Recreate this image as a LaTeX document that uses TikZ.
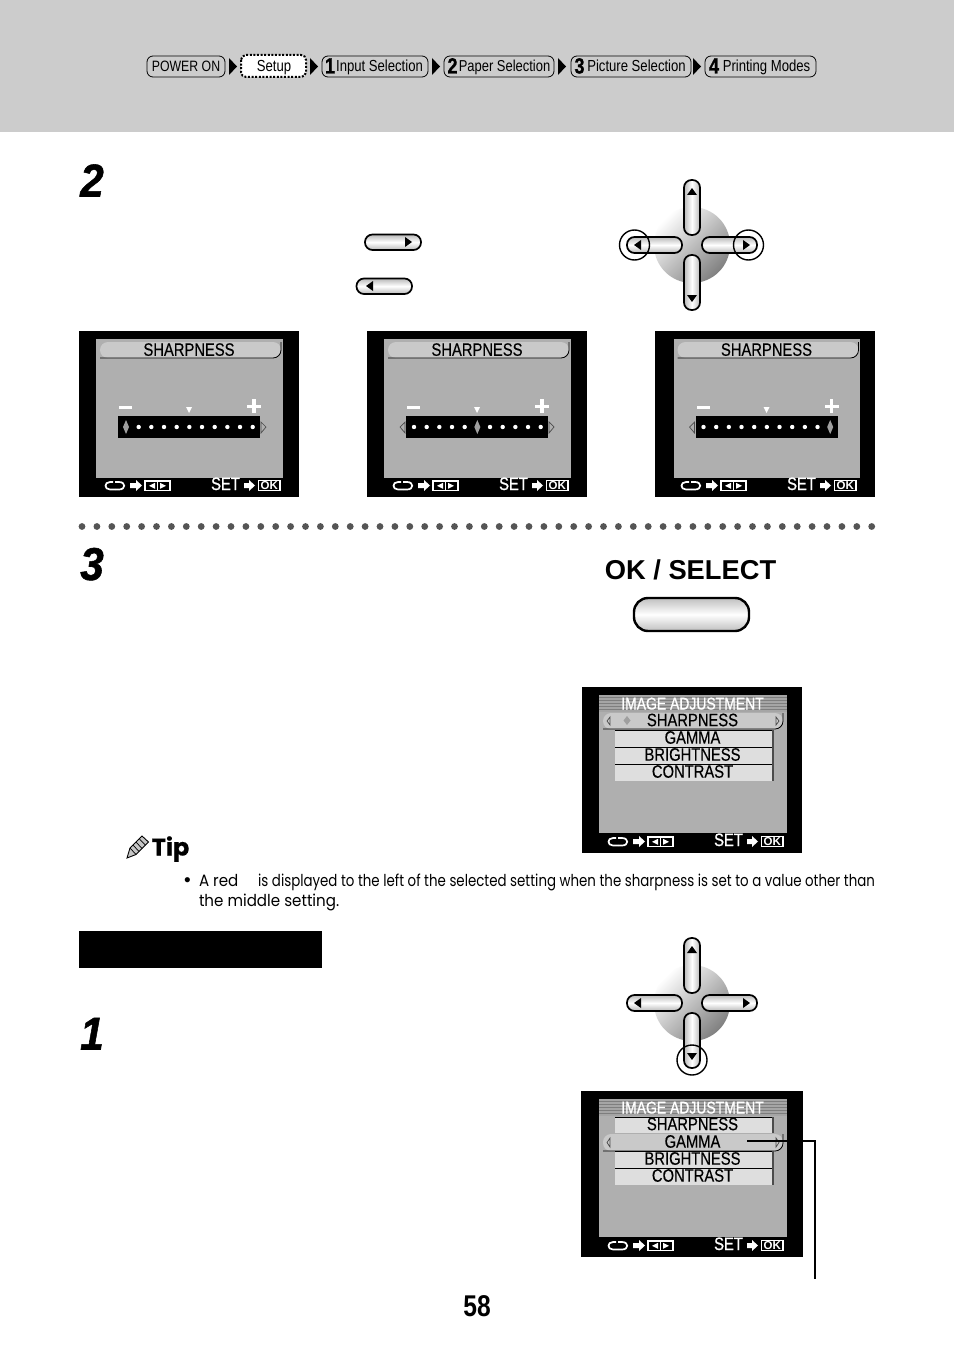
\documentclass[tikz,border=0pt]{standalone}
\usepackage{fontspec}
\setmainfont{Liberation Sans}
\newfontfamily\narrowf[FakeStretch=0.82]{Liberation Sans}
\newfontfamily\scrf[FakeStretch=0.82,FakeBold=0.35]{Liberation Sans}
\newfontfamily\ttlf[FakeStretch=0.82,FakeBold=0.9]{Liberation Sans}
\newfontfamily\numf[FakeStretch=0.82,FakeBold=1]{Liberation Sans}
\newfontfamily\stepf[FakeStretch=0.92,FakeBold=1.2]{Liberation Sans}
\newfontfamily\bodyf[FakeStretch=0.815]{Poppins}
\newfontfamily\redf[FakeStretch=0.92]{Poppins}
\newfontfamily\tipf[FakeBold=0.6]{Poppins}
\definecolor{hdr}{HTML}{CCCCCC}
\definecolor{scr}{HTML}{AFAFAF}
\definecolor{rowc}{HTML}{DEDEDE}
\definecolor{selc}{HTML}{C9C9C9}
\definecolor{stripe}{HTML}{7E7E7E}
\definecolor{dotc}{HTML}{555555}
\tikzset{
  lbl/.style={inner sep=0pt,outer sep=0pt,anchor=base},
  crumb/.style={draw=black,line width=.8pt,rounded corners=6pt},
  keyline/.style={draw=black,line width=1.7pt},
  ring/.style={draw=black,line width=1.4pt},
}
\newcommand{\hpill}[4]{\path[keyline,rounded corners=7.5pt,top color=gray!55,bottom color=gray!55,middle color=white] (#1,#2) rectangle (#3,#4);}
\newcommand{\vpill}[4]{\path[keyline,rounded corners=7.5pt,left color=gray!55,right color=gray!55,middle color=white] (#1,#2) rectangle (#3,#4);}
\newcommand{\tright}[3]{\fill (#1,#2-#3) -- (#1+#3*1.4,#2) -- (#1,#2+#3) -- cycle;}
\newcommand{\tleft}[3]{\fill (#1,#2-#3) -- (#1-#3*1.4,#2) -- (#1,#2+#3) -- cycle;}
\newcommand{\tup}[3]{\fill (#1-#3,#2) -- (#1,#2-#3*1.4) -- (#1+#3,#2) -- cycle;}
\newcommand{\tdown}[3]{\fill (#1-#3,#2) -- (#1,#2+#3*1.4) -- (#1+#3,#2) -- cycle;}
\newcommand{\dpad}[2]{%
  \begin{scope}[shift={(#1,#2)}]
    \shade[top color=white,bottom color=black!50,shading angle=45] (0,0) circle (38);
    \vpill{-8}{-65}{8}{-10}\vpill{-8}{10}{8}{65}
    \hpill{-65}{-8}{-10}{8}\hpill{10}{-8}{65}{8}
    \tup{0}{-50}{5}\tdown{0}{50}{5}\tleft{-51}{0}{5}\tright{51}{0}{5}
  \end{scope}}
\newcommand{\botbar}[1]{%
  \draw[white,line width=1.7pt] (34,151) -- (31,151) .. controls (25,151) and (25,158.5) .. (31,158.5) -- (36,158.5);
  \draw[white,line width=1.7pt] (36,151) -- (40,151) .. controls (47,151) and (47,158.5) .. (40,158.5) -- (36,158.5);
  \fill[white] (51,152) -- (57,152) -- (57,149) -- (63,154.5) -- (57,160) -- (57,157) -- (51,157) -- cycle;
  \draw[white,line width=1.2pt] (66,150) rectangle (91,159.5) (78.5,150) -- (78.5,159.5);
  \fill[white] (76,151.8) -- (70,154.8) -- (76,157.8) -- cycle;
  \fill[white] (81,151.8) -- (87,154.8) -- (81,157.8) -- cycle;
  \node[lbl,white] (#1set) at (146.5,159) {\ttlf\fontsize{18}{20}\selectfont SET};
  \fill[white] (165,152) -- (170,152) -- (170,149) -- (176,154.5) -- (170,160) -- (170,157) -- (165,157) -- cycle;
  \draw[white,line width=1.2pt] (179.5,149.5) rectangle (201,159.5);
  \node[lbl,white] (#1ok) at (190.2,158.6) {\fontsize{11.5}{14}\selectfont\bfseries OK};
}
\newcommand{\sharpscreen}[5]{%
  \begin{scope}[shift={(#2,#3)}]
    \fill[black] (0,0) rectangle (220,166);
    \begin{scope}[shift={(#5,0)}]
    \fill[scr] (17,8) rectangle (203.5,147);
    \path[fill=selc,rounded corners=8pt] (21,11) rectangle (202,27);
    \draw[black,line width=.8pt,rounded corners=8pt] (21,27) -- (202,27) -- (202,11);
    \node[lbl,black] (#1title) at (110,24.8) {\scrf\fontsize{18}{20}\selectfont SHARPNESS};
    \fill[white] (40,74.5) rectangle (53,78);
    \fill[white] (168,73.5) rectangle (182,77);
    \fill[white] (173.2,68) rectangle (176.8,82);
    \fill[white] (107,76) -- (113,76) -- (110,82) -- cycle;
    \fill[black] (39,85) rectangle (181,107);
    \foreach \i in {0,...,10}{
      \ifnum\i=#4\relax
        \fill[gray!75] ({47+12.67*\i},89) -- ({50+12.67*\i},96) -- ({47+12.67*\i},103) -- ({44+12.67*\i},96) -- cycle;
      \else
        \fill[white] ({47+12.67*\i},96) circle (2.2);
      \fi}
    \ifnum#4<10\relax \draw[black!70,line width=.7pt] (182,91) -- (187,96) -- (182,102) -- cycle;\fi
    \ifnum#4>0\relax \draw[black!70,line width=.7pt] (38,91) -- (33,96) -- (38,102) -- cycle;\fi
    \end{scope}
    \botbar{#1}
  \end{scope}}
\newcommand{\menurow}[5]{%
  \ifnum#5=1\relax
    \path[fill=selc,rounded corners=8pt] (21,#2) rectangle (201,#3);
    \draw[black,line width=.8pt,rounded corners=8pt] (21,#3) -- (201,#3) -- (201,#2);
    \draw[black!70,line width=.7pt] (28,{#2+4}) -- (25,{(#2+#3)/2}) -- (28,{#3-4}) -- cycle;
    \draw[black!70,line width=.7pt] (194,{#2+4}) -- (197,{(#2+#3)/2}) -- (194,{#3-4}) -- cycle;
  \else
    \fill[rowc] (33,#2) rectangle (190,#3);
    \draw[black,line width=.7pt] (33,#2) -- (190,#2);
    \fill[black!70] (190,#2) rectangle (192,#3);
  \fi
  \node[lbl,black] (#1) at (110.5,{(#2+#3)/2+5.2}) {\scrf\fontsize{18}{20}\selectfont #4};
}
\newcommand{\menuscreen}[5]{%
  \begin{scope}[shift={(#2,#3)}]
    \fill[black] (-#5,0) rectangle (220+#5,166);
    \fill[scr] (17,8) rectangle (205,146);
    \fill[stripe!70] (17,8) rectangle (205,25);
    \foreach \yy in {10,13,...,24}{\draw[stripe,line width=.8pt] (17,\yy) -- (205,\yy);}
    \node[lbl,white] (#1title) at (110.5,22.5) {\ttlf\fontsize{17}{20}\selectfont IMAGE ADJUSTMENT};
    \menurow{#1a}{26}{42}{SHARPNESS}{\ifnum#4=0 1\else 0\fi}
    \menurow{#1b}{43}{60}{GAMMA}{\ifnum#4=1 1\else 0\fi}
    \menurow{#1c}{60}{77}{BRIGHTNESS}{0}
    \menurow{#1d}{77}{94}{CONTRAST}{0}
    \ifnum#4=0\relax \fill[gray!75] (45,29) -- (48.5,33.5) -- (45,38) -- (41.5,33.5) -- cycle;\fi
    \botbar{#1}
  \end{scope}}
\begin{document}
\begin{tikzpicture}[x=1pt,y=-1pt]
\useasboundingbox (0,0) rectangle (954,1348);
\fill[white] (0,0) rectangle (954,1348);
\fill[hdr] (0,0) rectangle (954,132);
\path[crumb] (147,56) rectangle (225,77);
\node[lbl] (c0) at (186,71.5) {\narrowf\fontsize{15}{17}\selectfont POWER ON};
\path[fill=white,draw=black,line width=2pt,dash pattern=on 2pt off 1.6pt,rounded corners=5pt] (241,55) rectangle (306,77);
\node[lbl] (c1) at (274,71.5) {\narrowf\fontsize{16}{17}\selectfont Setup};
\path[crumb] (322,56) rectangle (428,77);
\node[lbl] (c2a) at (330,73.5) {\numf\fontsize{22}{23}\selectfont\bfseries 1};
\node[lbl] (c2) at (379.5,71.5) {\narrowf\fontsize{16}{17}\selectfont Input Selection};
\path[crumb] (444,56) rectangle (554,77);
\node[lbl] (c3a) at (452.5,73.5) {\numf\fontsize{22}{23}\selectfont\bfseries 2};
\node[lbl] (c3) at (504.5,71.5) {\narrowf\fontsize{15.8}{17}\selectfont Paper Selection};
\path[crumb] (571,56) rectangle (691,77);
\node[lbl] (c4a) at (579.5,73.5) {\numf\fontsize{22}{23}\selectfont\bfseries 3};
\node[lbl] (c4) at (636.5,71.5) {\narrowf\fontsize{16}{17}\selectfont Picture Selection};
\path[crumb] (705,56) rectangle (816,77);
\node[lbl] (c5a) at (714,73.5) {\numf\fontsize{22}{23}\selectfont\bfseries 4};
\node[lbl] (c5) at (766.5,71.5) {\narrowf\fontsize{16}{17}\selectfont Printing Modes};
\foreach \xx in {229,310,432,558,693}{\fill (\xx,58) -- (\xx+8,66.5) -- (\xx,75) -- cycle;}
\node[lbl] (n2) at (92,196.5) {\stepf\fontsize{46}{48}\selectfont\bfseries\itshape 2};
\node[lbl] (n3) at (92,580) {\stepf\fontsize{46}{48}\selectfont\bfseries\itshape 3};
\node[lbl] (n1) at (92,1049.5) {\stepf\fontsize{46}{48}\selectfont\bfseries\itshape 1};
\hpill{365}{234.5}{421}{250}\tright{405}{242}{5}
\hpill{356.5}{278.5}{412}{294}\tleft{373}{286}{5}
\dpad{692}{245}
\draw[ring] (634.5,245) circle (15);
\draw[ring] (748.5,245) circle (15);
\sharpscreen{sa}{79}{331}{0}{0}
\sharpscreen{sb}{367}{331}{5}{0}
\sharpscreen{sc}{655}{331}{10}{1.5}
\foreach \i in {0,...,53}{\fill[dotc] ({82+14.9*\i},526.5) circle (3.4);}
\node[lbl] (oks) at (690.5,579.5) {\fontsize{27.3}{30}\selectfont\bfseries OK / SELECT};
\path[draw=black,line width=2.4pt,rounded corners=14pt,top color=gray!50,bottom color=gray!50,middle color=white] (634,598) rectangle (749,631);
\menuscreen{ma}{582}{687}{0}{0}
\filldraw[fill=gray!45,draw=black,line width=.9pt] (127,858) -- (130,848) -- (142,836) -- (148.5,842) -- (136,854.5) -- cycle;
\draw[black,line width=.7pt] (130,848) -- (136,854.5) (133,845) -- (139,851.5) (136,842) -- (142,848.5) (139.5,839) -- (145.5,845);
\node[lbl] (tip) at (170.5,855.5) {\tipf\fontsize{24}{27}\selectfont\bfseries Tip};
\node[lbl] (bul) at (187.5,886) {\fontsize{19}{20}\selectfont •};
\node[lbl,anchor=base west] (t1) at (199,886) {\redf\fontsize{16.4}{18}\selectfont A red};
\node[lbl,anchor=base east] (t1b) at (875,886) {\bodyf\fontsize{16.4}{18}\selectfont is displayed to the left of the selected setting when the sharpness is set to a value other than};
\node[lbl,anchor=base west] (t2) at (199,906) {\redf\fontsize{16.4}{18}\selectfont the middle setting.};
\fill[black] (79,931) rectangle (322,968);
\dpad{692}{1003}
\draw[ring] (692,1060) circle (15);
\menuscreen{mb}{582}{1091}{1}{1}
\coordinate (callA) at (747,1141);
\coordinate (callB) at (815,1141);
\coordinate (callC) at (815,1279);
\draw[black,line width=1.3pt] (callA) -- (callB) -- (callC);
\node[lbl] (pg) at (477,1316) {\narrowf\fontsize{30}{32}\selectfont\bfseries 58};
\end{tikzpicture}
\end{document}
